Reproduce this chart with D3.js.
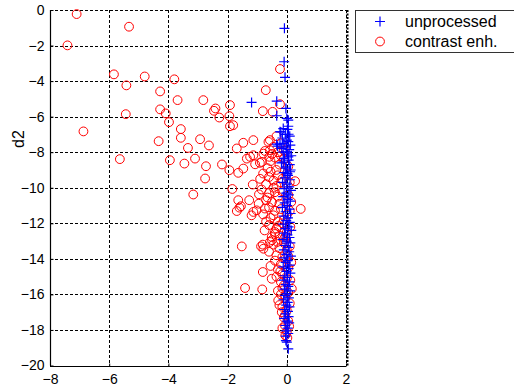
<!DOCTYPE html>
<html>
<head>
<meta charset="utf-8">
<script src="https://cdn.jsdelivr.net/npm/d3@7"></script>
<style>
  html, body { margin: 0; padding: 0; background: #fff; }
  svg { display: block; }
  text { font-family: "Liberation Sans", Arial, sans-serif; fill: #000; }
</style>
</head>
<body>
<div id="chart"></div>
<script>
// ---- data ----
const seriesNames = ["unprocessed", "contrast enh."];
const xTicks = [-8, -6, -4, -2, 0, 2];
const yTicks = [0, -2, -4, -6, -8, -10, -12, -14, -16, -18, -20];
const yLabel = "d2";

// "contrast enh." points [d1, d2]
const contrastPts = [
  [-7.10,-0.23],[-7.41,-1.99],[-5.33,-0.94],[-5.84,-3.62],[-5.42,-4.24],[-4.80,-3.74],[-3.80,-3.90],
  [-4.28,-4.58],[-3.69,-5.07],[-5.44,-5.86],[-4.28,-5.59],[-4.09,-5.82],[-3.98,-6.31],[-6.87,-6.83],
  [-2.82,-5.07],[-2.41,-5.54],[-2.46,-5.67],[-1.92,-5.35],[-1.94,-5.97],[-2.28,-6.05],[-1.92,-6.54],
  [-1.81,-6.48],[-3.58,-6.70],[-3.58,-7.19],[-4.33,-7.38],[-2.93,-7.27],[-2.63,-7.62],[-3.34,-7.76],
  [-1.69,-7.79],[-3.10,-8.36],[-3.95,-8.45],[-5.64,-8.39],[-3.46,-8.64],[-2.73,-8.79],[-2.19,-8.69],
  [-1.94,-9.01],[-1.64,-9.16],[-2.76,-9.48],[-1.84,-10.07],[-3.16,-10.38],
  [-0.23,-3.32],[-0.71,-4.51],[-0.81,-5.69],[-0.48,-5.73],[-0.23,-5.30],
  [-1.13,-7.32],[-1.47,-7.47],[-0.57,-7.32],[-1.13,-8.17],[-1.24,-8.26],[-1.35,-8.36],[-0.74,-7.93],
  [-0.59,-8.26],[-0.85,-8.55],[-1.47,-8.92],[-0.79,-8.08],[-0.91,-8.60],[-1.07,-8.68],[-0.57,-7.89],
  [-0.62,-7.42],[-1.15,-9.82],[-0.94,-10.37],[-1.64,-10.70],[-1.55,-11.04],[-1.60,-11.12],[-1.69,-11.31],
  [0.28,-9.63],[0.47,-11.19],[-1.52,-13.30],[-0.81,-13.20],[-0.87,-13.30],
  [-1.27,-10.70],[-1.13,-11.36],[-1.19,-11.55],[-1.02,-11.27],[-0.74,-11.17],[-0.79,-13.43],[-0.81,-14.74],
  [-0.40,-12.49],[-0.51,-12.77],[-0.57,-13.05],
  [-0.51,-15.12],[-1.41,-15.64],[-0.83,-15.72],[-0.29,-16.34],[0.17,-15.68],[-0.17,-17.00],[-0.06,-17.18],
  [-0.06,-17.75],[0.00,-18.12],
  [-0.35,-7.1],[-0.2,-7.5],[-0.45,-7.7],[-0.1,-7.9],[-0.3,-8.0],
  [-0.55,-8.5],[-0.4,-8.3],[-0.25,-8.7],[-0.1,-8.4],[-0.65,-8.9],[-0.35,-9.0],[0.05,-8.8],[-0.5,-8.1],[-0.2,-8.2],
  [-0.8,-9.2],[-0.6,-9.4],[-0.45,-9.6],[-0.3,-9.3],[-0.15,-9.5],[-0.7,-9.8],[-0.55,-9.1],[0.0,-9.2],[-0.35,-9.9],[-0.9,-9.5],[0.1,-9.7],
  [-0.85,-10.1],[-0.6,-10.3],[-0.45,-10.0],[-0.3,-10.5],[-0.7,-10.7],[-0.15,-10.2],[-0.5,-10.8],[0.05,-10.4],[-0.95,-10.9],[-0.25,-10.9],[-0.65,-10.55],[0.15,-10.8],
  [-0.6,-11.1],[-0.4,-11.3],[-0.8,-11.5],[-0.2,-11.2],[-0.55,-11.7],[-0.3,-11.9],[0.0,-11.5],[-0.7,-11.9],[-0.1,-11.8],[0.1,-11.3],[-0.45,-11.55],
  [-0.6,-12.1],[-0.35,-12.3],[-0.15,-12.0],[-0.75,-12.4],[-0.25,-12.7],[0.0,-12.5],[-0.5,-12.95],[-0.1,-12.9],[0.12,-12.2],[-0.4,-12.6],
  [-0.45,-13.2],[-0.25,-13.4],[-0.1,-13.1],[-0.6,-13.6],[-0.35,-13.8],[0.0,-13.5],[-0.15,-13.9],[0.1,-13.3],
  [-0.4,-14.1],[-0.2,-14.3],[-0.05,-14.0],[-0.3,-14.6],[-0.55,-14.4],[0.05,-14.5],[-0.15,-14.85],[0.15,-14.2],
  [-0.35,-15.0],[-0.2,-15.3],[0.0,-15.1],[-0.1,-15.5],[-0.3,-15.8],[0.05,-15.9],[-0.15,-15.65],
  [-0.2,-16.0],[-0.05,-16.2],[0.1,-16.5],[-0.15,-16.7],[0.0,-16.9],[-0.25,-16.6],
  [-0.1,-17.3],[0.05,-17.5],[-0.15,-17.9],[0.08,-17.8],[-0.05,-18.3],[0.02,-18.45],
  [-0.28,-12.15],[-0.05,-12.75],[-0.32,-13.05],[0.05,-13.85],[-0.22,-14.7],[0.12,-15.2],[-0.4,-10.25],[-0.2,-9.7]
];

// "unprocessed" points [d1, d2]
const unprocessedPts = [
  [-0.08,-1.03],[-0.09,-2.91],[-0.06,-3.79],[-1.19,-5.20],[-0.34,-5.13],[-0.03,-5.54],[-0.34,-5.95],
  [0.00,-6.10],[0.05,-6.20],[-0.12,-6.67],[0.05,-6.54],[-0.20,-6.86],[0.02,-6.72],[0.06,-6.99],
  [0.00,-7.32],[-0.31,-7.66],[-0.23,-6.85],[-0.34,-7.55],[-0.23,-7.55],[-0.17,-7.79],[0.00,-7.98],
  [0.05,-8.26],[-0.12,-8.55],[-0.03,-8.83],[0.02,-9.20],[0.11,-9.10],
  [-0.05,-7.0],[0.1,-7.1],[-0.15,-7.2],[0.05,-7.4],[-0.1,-7.5],[0.12,-7.6],[-0.02,-7.7],[0.08,-7.85],
  [-0.12,-8.0],[0.02,-8.1],[0.15,-8.2],[-0.08,-8.35],[0.06,-8.45],[-0.18,-8.6],[0.1,-8.7],[-0.03,-8.9],
  [0.13,-9.0],[-0.1,-9.15],[0.04,-9.3],[-0.06,-9.45],[0.11,-9.55],[-0.14,-9.7],[0.0,-9.8],[0.08,-9.95],
  [-0.09,-10.05],[0.14,-10.15],[-0.02,-10.3],[0.07,-10.4],[-0.12,-10.5],[0.03,-10.65],[0.12,-10.75],
  [-0.07,-10.85],[0.01,-11.0],[-0.15,-11.1],[0.09,-11.2],[-0.04,-11.35],[0.13,-11.45],[-0.1,-11.6],
  [0.04,-11.7],[-0.02,-11.85],[0.1,-11.95],[-0.12,-12.05],[0.06,-12.2],[-0.05,-12.3],[0.15,-12.4],
  [-0.08,-12.55],[0.02,-12.65],[0.09,-12.8],[-0.13,-12.9],[0.0,-13.0],[0.12,-13.1],[-0.06,-13.25],
  [0.05,-13.35],[-0.1,-13.5],[0.08,-13.6],[-0.02,-13.75],[0.14,-13.85],[-0.09,-13.95],[0.03,-14.1],
  [-0.04,-14.2],[0.1,-14.35],[-0.12,-14.45],[0.06,-14.55],[-0.01,-14.7],[0.12,-14.8],[-0.07,-14.95],
  [0.02,-15.05],[-0.1,-15.2],[0.09,-15.3],[-0.03,-15.45],[0.05,-15.55],[-0.08,-15.7],[0.11,-15.8],
  [0.0,-15.95],[-0.06,-16.05],[0.07,-16.2],[-0.11,-16.3],[0.03,-16.45],[-0.02,-16.6],[0.09,-16.7],
  [-0.07,-16.85],[0.04,-16.95],[-0.04,-17.1],[0.06,-17.25],[-0.09,-17.35],[0.01,-17.5],[0.08,-17.6],
  [-0.05,-17.75],[0.03,-17.9],[-0.02,-18.05],[0.05,-18.2],[-0.04,-18.35],
  [-0.03,-18.60],[0.00,-18.69],[0.05,-19.06]
];

// ---- drawing ----
const W = 514, H = 388;
const svg = d3.select("#chart").append("svg").attr("width", W).attr("height", H);

const x = d3.scaleLinear().domain([-8, 2]).range([50, 346]);
const y = d3.scaleLinear().domain([-20, 0]).range([365.5, 10]);

// grid
const grid = svg.append("g").attr("stroke", "#000").attr("stroke-dasharray", "3,2").attr("stroke-width", 1);
grid.selectAll("line.v").data(xTicks).join("line")
  .attr("x1", d => Math.round(x(d)) + 0.5).attr("x2", d => Math.round(x(d)) + 0.5)
  .attr("y1", y(0)).attr("y2", y(-20));
grid.selectAll("line.h").data(yTicks).join("line")
  .attr("y1", d => Math.round(y(d)) + 0.5).attr("y2", d => Math.round(y(d)) + 0.5)
  .attr("x1", x(-8)).attr("x2", x(2));
// thicker dashed right edge
svg.append("line").attr("x1", x(2) + 1.5).attr("x2", x(2) + 1.5).attr("y1", y(0)).attr("y2", y(-20))
  .attr("stroke", "#000").attr("stroke-width", 2).attr("stroke-dasharray", "2,1.5");

// axes (solid left & bottom, ticks inward)
const xAxis = d3.axisBottom(x).tickValues(xTicks).tickSize(-3).tickPadding(8).tickFormat(d3.format("d"));
const yAxis = d3.axisLeft(y).tickValues(yTicks).tickSize(-3).tickPadding(5).tickFormat(d3.format("d"));
const gx = svg.append("g").attr("transform", `translate(0,${Math.round(y(-20)) + 0.5})`).call(xAxis);
const gy = svg.append("g").attr("transform", `translate(${Math.round(x(-8)) + 0.5},0)`).call(yAxis);
[gx, gy].forEach(g => {
  g.select(".domain").attr("stroke", "#000").attr("stroke-width", 1.2);
  g.selectAll(".tick line").attr("stroke", "#000");
  g.selectAll("text").attr("font-family", "Liberation Sans, Arial, sans-serif").attr("font-size", 14).attr("fill", "#000");
});
gx.select(".domain").attr("d", `M${x(-8)},0H${x(2)}`);
gy.select(".domain").attr("d", `M0,${y(0)}V${y(-20)}`);
gx.selectAll("text").attr("dy", "0.71em");
gy.selectAll("text").attr("dx", "-1");

// y label
svg.append("text").attr("transform", `translate(24,139) rotate(-90)`)
  .attr("text-anchor", "middle").attr("font-size", 16).text(yLabel);

// marks
const plot = svg.append("g");
plot.selectAll("circle").data(contrastPts).join("circle")
  .attr("cx", d => x(d[0])).attr("cy", d => y(d[1])).attr("r", 4.4)
  .attr("fill", "none").attr("stroke", "#ff0000").attr("stroke-width", 1);
plot.selectAll("path.plus").data(unprocessedPts).join("path").attr("class", "plus")
  .attr("d", d => `M${x(d[0]) - 5},${y(d[1])}H${x(d[0]) + 5}M${x(d[0])},${y(d[1]) - 5}V${y(d[1]) + 5}`)
  .attr("fill", "none").attr("stroke", "#0000ff").attr("stroke-width", 1.2);

// legend
const lg = svg.append("g");
lg.append("rect").attr("x", 355.5).attr("y", 10.5).attr("width", 170).attr("height", 42)
  .attr("fill", "#fff").attr("stroke", "#333").attr("stroke-width", 1);
lg.append("path").attr("d", "M375,21.5H385M380,16.5V26.5").attr("stroke", "#0000ff").attr("stroke-width", 1.2);
lg.append("circle").attr("cx", 380).attr("cy", 41.5).attr("r", 4.4).attr("fill", "none").attr("stroke", "#ff0000");
lg.selectAll("text").data(seriesNames).join("text")
  .attr("x", 405).attr("y", (d, i) => 27 + i * 20).attr("font-size", 16).text(d => d);
</script>
</body>
</html>
